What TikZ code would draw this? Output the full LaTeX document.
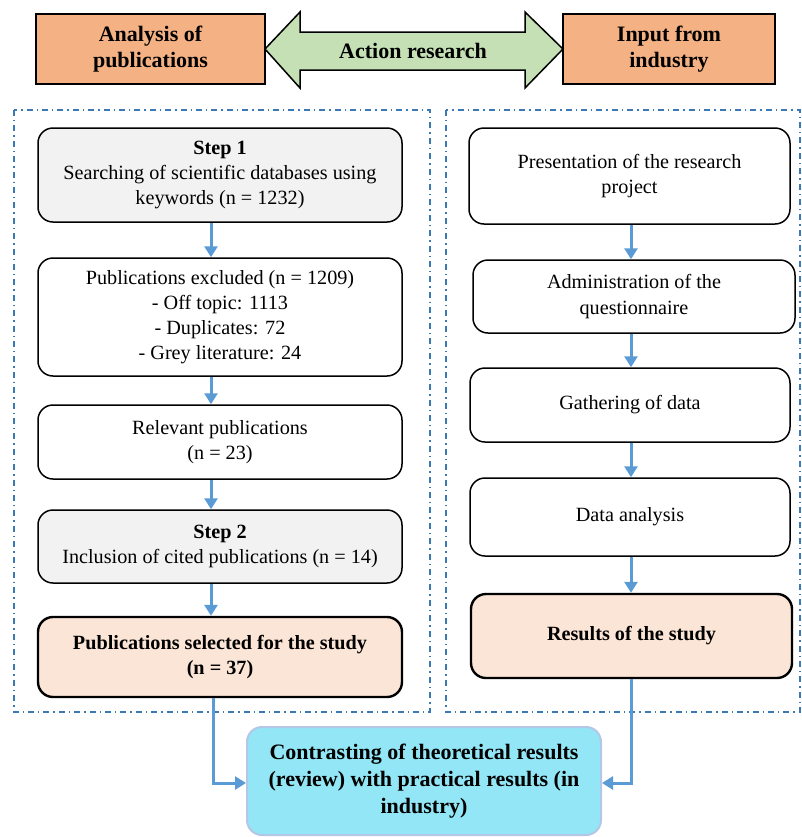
\documentclass[tikz,border=0pt]{standalone}
\usepackage{fontspec}
\setmainfont{Liberation Serif}
\usetikzlibrary{arrows.meta}
\definecolor{orangebox}{HTML}{F4B183}
\definecolor{greenarrow}{HTML}{C5E0B4}
\definecolor{graybox}{HTML}{F2F2F2}
\definecolor{peach}{HTML}{FBE5D6}
\definecolor{cyanbox}{HTML}{92E6F5}
\definecolor{cyanborder}{HTML}{B4C7E7}
\definecolor{frameblue}{HTML}{3B78B4}
\definecolor{arrowblue}{HTML}{5B9BD5}
\tikzset{
  box/.style={draw=black, line width=0.75pt, rounded corners=7.5pt, align=center, inner sep=2pt,
    font=\fontsize{10.1}{12.6}\selectfont},
  topbox/.style={draw=black, line width=0.75pt, fill=orangebox, align=center,
    font=\fontsize{11}{13}\selectfont\bfseries},
  frame/.style={draw=frameblue, line width=0.6pt, dash pattern=on 3pt off 2pt on 0.7pt off 2pt},
  flow/.style={draw=arrowblue, line width=1.5pt, -{Triangle[width=6.5pt,length=5.5pt]}},
}
\begin{document}
\begin{tikzpicture}[x=0.5pt,y=-0.5pt]
\useasboundingbox (0,0) rectangle (802,837);
% top row
\node[topbox, minimum width=114.5pt, minimum height=35pt] (ana) at (150.5,49) {Analysis of\\publications};
\node[topbox, minimum width=106pt, minimum height=35pt] (ind) at (669,49) {Input from\\industry};
\draw[draw=black, line width=0.75pt, fill=greenarrow]
  (265,49) -- (300,12) -- (300,32) -- (525,32) -- (525,12) -- (563,49)
  -- (525,88) -- (525,70) -- (300,70) -- (300,88) -- cycle;
\node[font=\fontsize{11}{13}\selectfont\bfseries] (ar) at (413,51) {Action research};
% frames
\draw[frame] (14,110) rectangle (430,712);
\draw[frame] (446,110) rectangle (800,712);
% left column
\node[box, fill=graybox, minimum width=182pt, minimum height=47pt] (s1) at (220,175)
  {\textbf{Step 1}\\Searching of scientific databases using\\keywords (n = 1232)};
\node[box, fill=white, minimum width=182pt, minimum height=59pt] (ex) at (220,317)
  {Publications excluded (n = 1209)\\- Off topic: 1113\\- Duplicates: 72\\- Grey literature: 24};
\node[box, fill=white, minimum width=182pt, minimum height=37pt] (rel) at (220,442)
  {Relevant publications\\(n = 23)};
\node[box, fill=graybox, minimum width=182pt, minimum height=36.5pt] (s2) at (220,546.5)
  {\textbf{Step 2}\\Inclusion of cited publications (n = 14)};
\node[box, fill=peach, line width=1.2pt, minimum width=182pt, minimum height=40pt,
  font=\fontsize{10.1}{12.6}\selectfont\bfseries] (sel) at (220,657)
  {Publications selected for the study\\(n = 37)};
% right column
\node[box, fill=white, minimum width=160.5pt, minimum height=48pt] (pres) at (629.5,176)
  {Presentation of the research\\project};
\node[box, fill=white, minimum width=161pt, minimum height=36.5pt] (adm) at (634,296.5)
  {Administration of the\\questionnaire};
\node[box, fill=white, minimum width=160pt, minimum height=37pt] (gat) at (630,405)
  {Gathering of data};
\node[box, fill=white, minimum width=160pt, minimum height=39pt] (dat) at (630,517)
  {Data analysis};
\node[box, fill=peach, line width=1.2pt, minimum width=160.5pt, minimum height=42pt,
  font=\fontsize{10.1}{12.6}\selectfont\bfseries] (res) at (631.5,636)
  {Results of the study};
% bottom
\node[box, fill=cyanbox, draw=cyanborder, line width=1pt, minimum width=177pt, minimum height=54pt,
  font=\fontsize{11}{13.5}\selectfont\bfseries] (con) at (424,781)
  {Contrasting of theoretical results\\(review) with practical results (in\\industry)};
% connectors
\draw[flow] ([xshift=-4.5pt]s1.south) -- ([xshift=-4.5pt]ex.north);
\draw[flow] ([xshift=-4.5pt]ex.south) -- ([xshift=-4.5pt]rel.north);
\draw[flow] ([xshift=-4.5pt]rel.south) -- ([xshift=-4.5pt]s2.north);
\draw[flow] ([xshift=-4.5pt]s2.south) -- ([xshift=-4.5pt]sel.north);
\draw[flow] (pres.south -| 631,0) -- (adm.north -| 631,0);
\draw[flow] (adm.south -| 631,0) -- (gat.north -| 631,0);
\draw[flow] (gat.south -| 631,0) -- (dat.north -| 631,0);
\draw[flow] (dat.south -| 631,0) -- (res.north -| 631,0);
\draw[flow] ([xshift=-3.5pt]sel.south) |- (con.west |- 0,783);
\draw[flow] (res.south -| 631,0) |- (con.east |- 0,783);
\end{tikzpicture}
\end{document}
